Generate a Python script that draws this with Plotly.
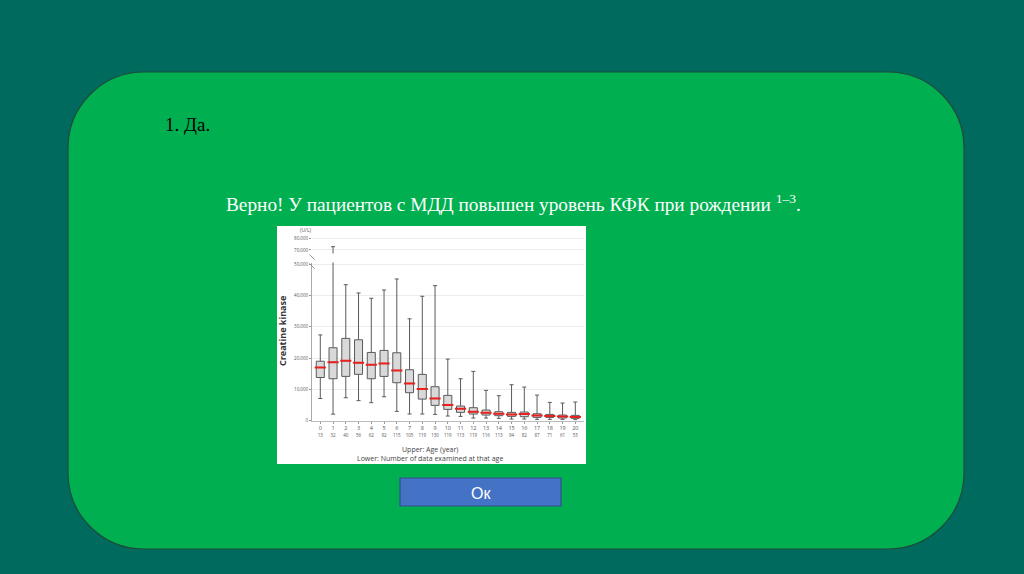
import plotly.graph_objects as go

# ---------------- data ----------------
ages = list(range(21))
counts = [13, 32, 40, 56, 62, 92, 115, 105, 119, 130, 119, 113, 119, 116, 113, 94, 82, 87, 71, 61, 53]
upper_whisker = [27400, 72800, 43450, 40800, 39100, 41750, 45270, 32550, 39750, 43130, 19680,
                 13400, 15750, 9680, 7980, 11490, 10740, 8190, 5850, 5640, 5960]
q3 = [19000, 23300, 26300, 25850, 21800, 22450, 21700, 16280, 14800, 10850, 8080,
      4680, 4150, 3400, 2870, 2660, 2770, 2230, 2020, 1800, 1700]
median = [17000, 18700, 19150, 18500, 17900, 18300, 16050, 11900, 10100, 7130, 5000,
          3830, 2870, 2550, 2230, 2020, 2130, 1700, 1490, 1380, 1170]
q1 = [13800, 13400, 14150, 14800, 13400, 14150, 12130, 8940, 6900, 4900, 3620,
      2660, 2130, 1800, 1600, 1380, 1280, 1060, 1060, 850, 750]
lower_whisker = [7100, 2100, 7340, 6400, 5750, 7650, 2980, 2130, 2130, 2020, 1490,
                 1380, 850, 850, 745, 530, 530, 430, 430, 430, 320]

lower_ticks = [0, 10000, 20000, 30000, 40000, 50000]
lower_labels = ["0", "10,000", "20,000", "30,000", "40,000", "50,000"]
upper_ticks = [70000, 80000]
upper_labels = ["70,000", "80,000"]

# ---------------- geometry helpers ----------------
W, H = 1024, 574
def px(x):
    return x / W
def py(y):
    return 1 - y / H

TEAL = "#006A5E"
GREEN = "#00B050"
CHART_FONT = "Open Sans"

fig = go.Figure()

ticktext = [f"{a}<br><span style='font-size:4.5px'>{c}</span>" for a, c in zip(ages, counts)]

for xa, ya in [("x", "y"), ("x2", "y2")]:
    fig.add_trace(go.Box(
        x=ages, q1=q1, median=median, q3=q3,
        lowerfence=lower_whisker, upperfence=upper_whisker,
        xaxis=xa, yaxis=ya,
        width=0.63, whiskerwidth=0.5,
        fillcolor="#d9d9d9",
        line=dict(color="#5a5a5a", width=1),
        boxpoints=False, hoverinfo="skip",
        showlegend=False,
    ))

# red median bars
fig.add_trace(go.Scatter(
    x=ages, y=median, mode="markers", xaxis="x", yaxis="y",
    marker=dict(symbol="line-ew", size=8, line=dict(color="#e8211d", width=2)),
    hoverinfo="skip", showlegend=False,
))

# ---------------- slide shapes ----------------
shapes = []
L, R, T, B, r = 68, 964, 72, 549, 76
k = 0.5523 * r
path = (
    f"M {px(L + r)},{py(T)} L {px(R - r)},{py(T)} "
    f"C {px(R - r + k)},{py(T)} {px(R)},{py(T + r - k)} {px(R)},{py(T + r)} "
    f"L {px(R)},{py(B - r)} "
    f"C {px(R)},{py(B - r + k)} {px(R - r + k)},{py(B)} {px(R - r)},{py(B)} "
    f"L {px(L + r)},{py(B)} "
    f"C {px(L + r - k)},{py(B)} {px(L)},{py(B - r + k)} {px(L)},{py(B - r)} "
    f"L {px(L)},{py(T + r)} "
    f"C {px(L)},{py(T + r - k)} {px(L + r - k)},{py(T)} {px(L + r)},{py(T)} Z"
)
shapes.append(dict(type="path", xref="paper", yref="paper", path=path,
                   fillcolor=GREEN, line=dict(color="#1d4d3a", width=1.2), layer="below"))
shapes.append(dict(type="rect", xref="paper", yref="paper",
                   x0=px(277), x1=px(586), y0=py(464), y1=py(226),
                   fillcolor="white", line=dict(width=0), layer="below"))
shapes.append(dict(type="rect", xref="paper", yref="paper",
                   x0=px(400), x1=px(561), y0=py(506), y1=py(478),
                   fillcolor="#4472C4", line=dict(color="#2F528F", width=1.2), layer="above"))
for yb in (257, 266):
    shapes.append(dict(type="line", xref="paper", yref="paper",
                       x0=px(309.5), x1=px(314.5), y0=py(yb - 2.5), y1=py(yb + 2.5),
                       line=dict(color="#777", width=0.8)))

annotations = [
    dict(text="1. Да.", x=px(163), y=py(125), xref="paper", yref="paper",
         xanchor="left", yanchor="middle", showarrow=False,
         font=dict(family="Liberation Serif", size=19, color="black")),
    dict(text="Верно! У пациентов с МДД повышен уровень КФК при рождении <sup>1–3</sup>.",
         x=px(224), y=py(203), xref="paper", yref="paper",
         xanchor="left", yanchor="middle", showarrow=False,
         font=dict(family="Liberation Serif", size=19.3, color="white")),
    dict(text="Ок", x=px(481), y=py(493), xref="paper", yref="paper",
         xanchor="center", yanchor="middle", showarrow=False,
         font=dict(family="Liberation Sans", size=16, color="white")),
    dict(text="<b>Creatine kinase</b>", x=px(282), y=py(331), xref="paper", yref="paper",
         xanchor="center", yanchor="middle", showarrow=False, textangle=-90,
         font=dict(family=CHART_FONT, size=9, color="#333")),
    dict(text="(U/L)", x=px(306), y=py(229.5), xref="paper", yref="paper",
         xanchor="center", yanchor="middle", showarrow=False,
         font=dict(family=CHART_FONT, size=5, color="#555")),
    dict(text="Upper: Age (year)", x=px(430), y=py(449), xref="paper", yref="paper",
         xanchor="center", yanchor="middle", showarrow=False,
         font=dict(family=CHART_FONT, size=7, color="#444")),
    dict(text="Lower: Number of data examined at that age", x=px(430), y=py(458),
         xref="paper", yref="paper", xanchor="center", yanchor="middle", showarrow=False,
         font=dict(family=CHART_FONT, size=7, color="#444")),
]

xdom = [px(312), px(583.6)]
fig.update_layout(
    width=W, height=H,
    margin=dict(l=0, r=0, t=0, b=0),
    paper_bgcolor=TEAL, plot_bgcolor="white",
    showlegend=False,
    shapes=shapes, annotations=annotations,
    xaxis=dict(domain=xdom, range=[-0.65, 20.65], anchor="y",
               tickmode="array", tickvals=ages, ticktext=ticktext,
               tickfont=dict(family=CHART_FONT, size=5.5, color="#555"),
               showgrid=False, showline=True, linecolor="#bbb", linewidth=1,
               ticks="outside", ticklen=2, tickcolor="#999", zeroline=False,
               automargin=False, fixedrange=True),
    yaxis=dict(domain=[py(420.7), py(262.6)], range=[0, 50500], anchor="x",
               tickmode="array", tickvals=lower_ticks, ticktext=lower_labels,
               tickfont=dict(family=CHART_FONT, size=4.5, color="#555"),
               showgrid=True, gridcolor="#ececec", gridwidth=1,
               showline=True, linecolor="#aaa", linewidth=1,
               ticks="outside", ticklen=2, tickcolor="#999", zeroline=False,
               automargin=False, fixedrange=True),
    xaxis2=dict(domain=xdom, range=[-0.65, 20.65], anchor="y2", visible=False,
                fixedrange=True),
    yaxis2=dict(domain=[py(253.5), py(237.1)], range=[67000, 81000], anchor="x2",
                tickmode="array", tickvals=upper_ticks, ticktext=upper_labels,
                tickfont=dict(family=CHART_FONT, size=4.5, color="#555"),
                showgrid=True, gridcolor="#ececec", gridwidth=1,
                showline=False, ticks="outside", ticklen=2, tickcolor="#999",
                zeroline=False, automargin=False, fixedrange=True),
)

fig.write_html(
    "out.html",
    config={"displayModeBar": False},
    post_script="document.body.style.margin='0';document.body.style.overflow='hidden';"
                "document.body.style.background='" + TEAL + "';",
)
